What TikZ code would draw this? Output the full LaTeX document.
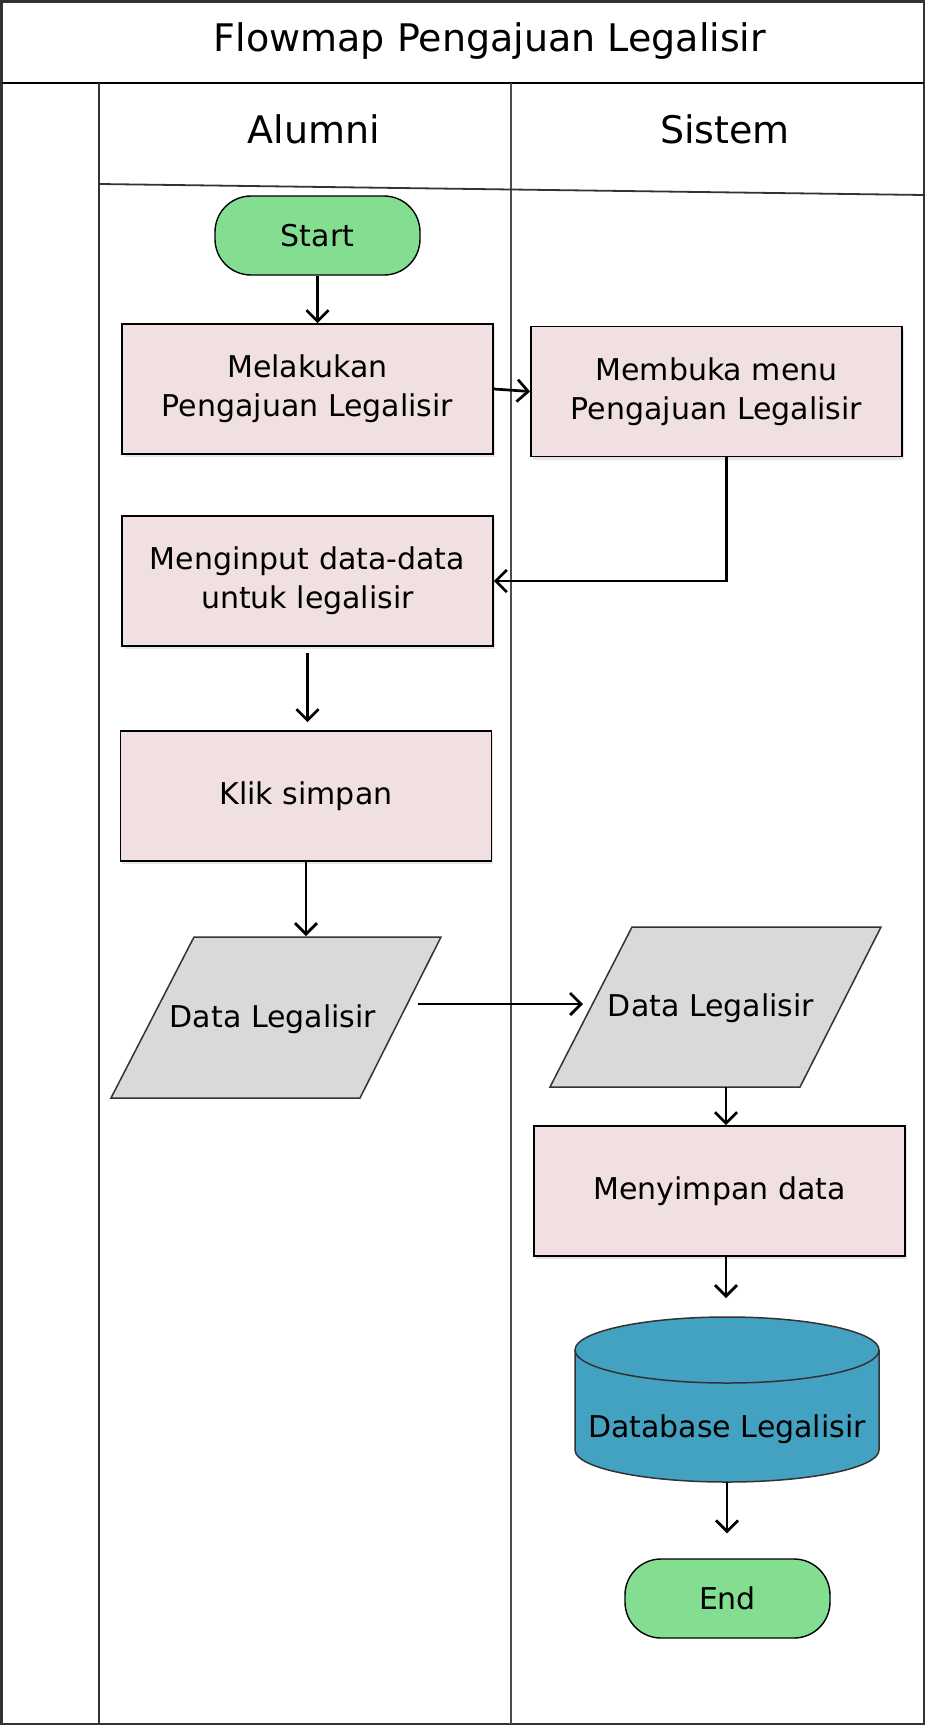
\documentclass[tikz,border=0pt]{standalone}
\usepackage{fontspec}
\setmainfont{DejaVu Sans}
\usepackage{tikz}
\usetikzlibrary{arrows.meta, shadows}
\definecolor{pinkbox}{HTML}{F0E0E1}
\definecolor{abubox}{HTML}{D9D9D9}
\definecolor{hijau}{HTML}{84DE92}
\definecolor{birudb}{HTML}{43A2C2}
\definecolor{garis}{HTML}{333333}
\tikzset{
    proses/.style={draw, line width=1.8pt, fill=pinkbox, minimum width=371pt, minimum height=130pt, align=center,
        drop shadow={shadow xshift=1.5pt, shadow yshift=-3pt, opacity=0.2}}, % 定义处理框的样式
    terminal/.style={draw, line width=1.4pt, fill=hijau, minimum width=205pt, minimum height=79pt, rounded corners=36pt}, % 定义开始/结束的样式
    judul/.style={font=\fontsize{38}{46}\selectfont, anchor=base}, % 定义标题文字的样式
    panah/.style={line width=2.7pt, -{Straight Barb[length=11pt, width=22pt]}} % 定义箭头的样式
}

\begin{document}
\begin{tikzpicture}[x=1pt, y=-1pt, font=\fontsize{30}{39}\selectfont]
            \useasboundingbox (0,0) rectangle (926,1726);
            
            % 泳道
            \draw[garis, line width=2.6pt] (1.5,1.5) rectangle (924,1724);
            \draw[line width=2pt] (1.5,83) -- (924,83);
            \draw[garis, line width=1.3pt] (99,83) -- (99,1724);
            \draw[black!70, line width=1.3pt] (511,83) -- (511,1724);
            \draw[garis, line width=1.8pt] (99,184) -- (924,195);
            \node[judul] (judul) at (490,52) {Flowmap Pengajuan Legalisir};
            \node[judul] (alumni) at (314,143) {Alumni};
            \node[judul] (sistem) at (725,143) {Sistem};
            
            % 流程
            \node[terminal] (start) at (317.5,235.5) {Start};
            \node[proses] (lakukan) at (307.5,389) {Melakukan\\Pengajuan Legalisir};
            \node[proses] (buka) at (716.5,391.5) {Membuka menu\\Pengajuan Legalisir};
            \node[proses] (input) at (307.5,581) {Menginput data-data\\untuk legalisir};
            \node[proses] (klik) at (306,796) {Klik simpan};
            \node[proses] (simpan) at (719.5,1191) {\raisebox{-5pt}{Menyimpan data}};
            \node[terminal] (end) at (727.5,1598.5) {End};
            
            \filldraw[fill=abubox, draw=garis, line width=1.5pt] (194,937) -- (441,937) -- (360,1098) -- (111,1098) -- cycle;
            \node (data1) at (273,1019) {Data Legalisir};
            \filldraw[fill=abubox, draw=garis, line width=1.5pt] (632,927) -- (881,927) -- (800,1087) -- (550,1087) -- cycle;
            \node (data2) at (711,1008) {Data Legalisir};
            
            \filldraw[fill=birudb, draw=garis, line width=1.5pt] (575,1350) -- (575,1450) arc[start angle=180, end angle=0, x radius=152, y radius=32]
                -- (879,1350) arc[start angle=0, end angle=-180, x radius=152, y radius=33] -- cycle;
            \draw[garis, line width=1.5pt] (575,1350) arc[start angle=180, end angle=0, x radius=152, y radius=33];
            \node (db) at (727,1429) {Database Legalisir};
            
            \coordinate (d1atas) at (306,936);
            \coordinate (d1kanan) at (418,1004);
            \coordinate (d2kiri) at (583,1004);
            \coordinate (d2bawah) at (726,1087);
            \coordinate (dbatas) at (726,1317);
            \coordinate (dbbawah) at (727,1482);
            
            \draw[panah] (start.south) -- (start.south |- lakukan.north);
            \draw[panah] (lakukan.east) -- (buka.west);
            \draw[panah] ([xshift=10pt]buka.south) |- (input.east);
            \draw[panah, shorten <=6pt, shorten >=8pt] (input.south) -- (input.south |- klik.north);
            \draw[panah] (klik.south) -- (d1atas);
            \draw[panah] (d1kanan) -- (d2kiri);
            \draw[panah] (d2bawah) -- (d2bawah |- simpan.north);
            \draw[panah, shorten >=19pt] (simpan.south -| dbatas) -- (dbatas);
            \draw[panah, shorten >=25pt] (dbbawah) -- (dbbawah |- end.north);
        \end{tikzpicture}
\end{document}
